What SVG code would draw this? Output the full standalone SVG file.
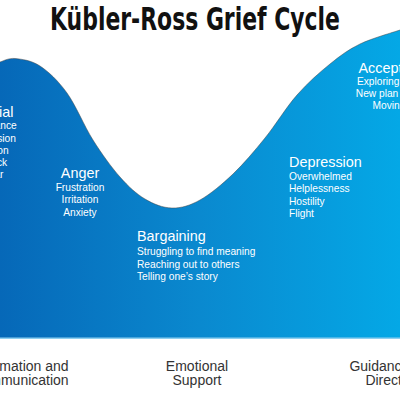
<svg xmlns="http://www.w3.org/2000/svg" width="400" height="400" viewBox="0 0 400 400">
<defs>
<linearGradient id="bg" x1="0" y1="0" x2="400" y2="0" gradientUnits="userSpaceOnUse">
<stop offset="0" stop-color="#0668b8"/>
<stop offset="0.5" stop-color="#0a89cf"/>
<stop offset="1" stop-color="#04a8e6"/>
</linearGradient>
</defs>
<style>
.h{font-family:"Liberation Sans",Arial,sans-serif;font-size:14.4px;fill:#fff}
.i{font-family:"Liberation Sans",Arial,sans-serif;font-size:10.2px;fill:#fff}
.b{font-family:"Liberation Sans",Arial,sans-serif;font-size:14px;fill:#333;text-anchor:middle}
.c{text-anchor:middle}
</style>
<rect width="400" height="400" fill="#fff"/>
<g id="curve">
<path d="M0,62 C2.5,61.4 8.33,57.83 15,58.5 C21.67,59.17 31.33,60.25 40,66 C48.67,71.75 58.17,80.67 67,93 C75.83,105.33 84.17,126 93,140 C101.83,154 111.33,167.17 120,177 C128.67,186.83 136.33,193.83 145,199 C153.67,204.17 162.83,207.83 172,208 C181.17,208.17 189.83,205.67 200,200 C210.17,194.33 222.17,184.33 233,174 C243.83,163.67 254.33,151.17 265,138 C275.67,124.83 286.17,107.33 297,95 C307.83,82.67 319.5,72.5 330,64 C340.5,55.5 348.33,49.67 360,44 C371.67,38.33 393.33,32.33 400,30 L400,338 L0,338 Z" fill="url(#bg)"/>
<path d="M0,62 C2.5,61.4 8.33,57.83 15,58.5 C21.67,59.17 31.33,60.25 40,66 C48.67,71.75 58.17,80.67 67,93 C75.83,105.33 84.17,126 93,140 C101.83,154 111.33,167.17 120,177 C128.67,186.83 136.33,193.83 145,199 C153.67,204.17 162.83,207.83 172,208 C181.17,208.17 189.83,205.67 200,200 C210.17,194.33 222.17,184.33 233,174 C243.83,163.67 254.33,151.17 265,138 C275.67,124.83 286.17,107.33 297,95 C307.83,82.67 319.5,72.5 330,64 C340.5,55.5 348.33,49.67 360,44 C371.67,38.33 393.33,32.33 400,30" fill="none" stroke="#444" stroke-width="0.7" stroke-opacity="0.7"/>
<rect x="0" y="337.5" width="400" height="1.5" fill="#8fd0f0"/>
</g>
<text x="195" y="30" font-family="'Liberation Sans Narrow','DejaVu Sans Condensed','Liberation Sans',sans-serif" font-weight="bold" font-size="32" fill="#111" text-anchor="middle" textLength="290" lengthAdjust="spacingAndGlyphs">Kübler-Ross Grief Cycle</text>
<g id="denial" class="c">
<text class="h c" x="-7" y="116.5">Denial</text>
<text class="i c" x="-7" y="129">Avoidance</text>
<text class="i c" x="-7" y="141.5">Confusion</text>
<text class="i c" x="-7" y="153.5">Elation</text>
<text class="i c" x="-7" y="166">Shock</text>
<text class="i c" x="-7" y="178">Fear</text>
</g>
<g id="anger">
<text class="h c" x="80" y="178">Anger</text>
<text class="i c" x="80" y="190.7">Frustration</text>
<text class="i c" x="80" y="203.2">Irritation</text>
<text class="i c" x="80" y="215.5">Anxiety</text>
</g>
<g id="bargaining">
<text class="h" x="137" y="241">Bargaining</text>
<text class="i" x="137" y="255">Struggling to find meaning</text>
<text class="i" x="137" y="267.5">Reaching out to others</text>
<text class="i" x="137" y="280">Telling one’s story</text>
</g>
<g id="depression">
<text class="h" x="289" y="167">Depression</text>
<text class="i" x="289" y="179.5">Overwhelmed</text>
<text class="i" x="289" y="192">Helplessness</text>
<text class="i" x="289" y="204.5">Hostility</text>
<text class="i" x="289" y="216.5">Flight</text>
</g>
<g id="acceptance">
<text class="h c" x="396" y="72.5">Acceptance</text>
<text class="i c" x="396" y="85">Exploring options</text>
<text class="i c" x="396" y="97">New plan in place</text>
<text class="i c" x="396" y="109">Moving on</text>
</g>
<g id="labels">
<text class="b" x="20" y="371">Information and</text>
<text class="b" x="20" y="385">Communication</text>
<text class="b" x="197" y="371">Emotional</text>
<text class="b" x="197" y="385">Support</text>
<text class="b" x="393" y="371">Guidance and</text>
<text class="b" x="393" y="385">Direction</text>
</g>
</svg>
